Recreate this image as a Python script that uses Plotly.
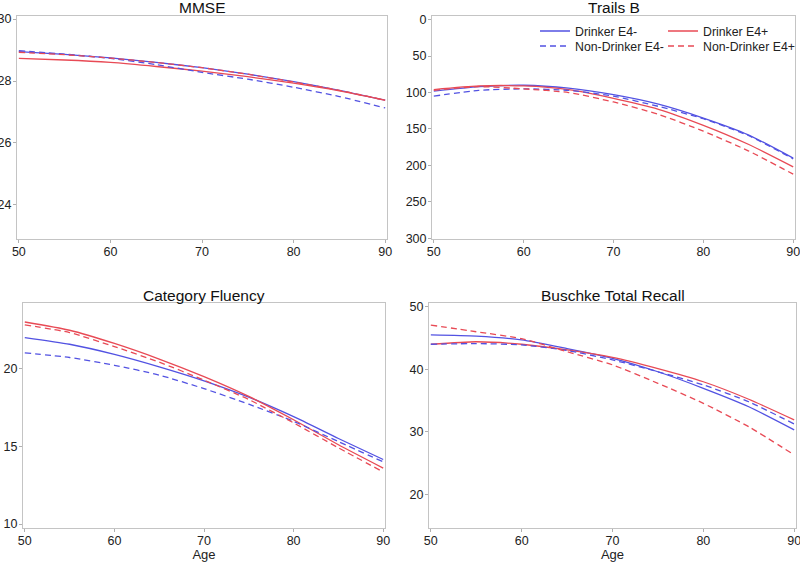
import plotly.graph_objects as go

ages = [50, 55, 60, 65, 70, 75, 80, 85, 90]

series_names = ["Drinker E4-", "Drinker E4+", "Non-Drinker E4-", "Non-Drinker E4+"]

# MMSE
mmse_d_neg = [28.95, 28.86, 28.75, 28.60, 28.43, 28.22, 27.98, 27.70, 27.38]
mmse_d_pos = [28.73, 28.68, 28.60, 28.47, 28.32, 28.14, 27.93, 27.68, 27.38]
mmse_nd_neg = [28.98, 28.87, 28.73, 28.53, 28.28, 28.06, 27.80, 27.50, 27.13]
mmse_nd_pos = [28.93, 28.85, 28.74, 28.60, 28.43, 28.22, 27.97, 27.70, 27.38]

# Trails B
trails_d_neg = [98, 92, 90, 94, 103, 116, 135, 158, 190]
trails_d_pos = [96, 91, 91, 96, 108, 123, 145, 171, 202]
trails_nd_neg = [105, 97, 95, 97, 105, 119, 136, 159, 191]
trails_nd_pos = [97, 92, 95, 100, 113, 130, 153, 180, 212]

# Category Fluency
cf_d_neg = [21.98, 21.55, 20.90, 20.10, 19.20, 18.15, 16.90, 15.50, 14.15]
cf_d_pos = [22.98, 22.45, 21.60, 20.60, 19.47, 18.20, 16.70, 15.10, 13.60]
cf_nd_neg = [21.00, 20.70, 20.20, 19.57, 18.70, 17.70, 16.60, 15.30, 14.00]
cf_nd_pos = [22.80, 22.30, 21.40, 20.40, 19.25, 18.00, 16.50, 14.90, 13.35]

# Buschke Total Recall
bu_d_neg = [45.5, 45.3, 44.7, 43.3, 41.75, 39.6, 36.95, 34.0, 30.3]
bu_d_pos = [44.0, 44.4, 44.0, 43.1, 41.9, 40.1, 38.0, 35.2, 31.9]
bu_nd_neg = [44.0, 44.1, 43.9, 43.0, 41.5, 39.6, 37.5, 34.8, 31.25]
bu_nd_pos = [47.07, 46.0, 44.9, 42.8, 40.7, 37.75, 34.55, 30.8, 26.3]

panel_titles = ["MMSE", "Trails B", "Category Fluency", "Buschke Total Recall"]
panel_data = [
    [mmse_d_neg, mmse_d_pos, mmse_nd_neg, mmse_nd_pos],
    [trails_d_neg, trails_d_pos, trails_nd_neg, trails_nd_pos],
    [cf_d_neg, cf_d_pos, cf_nd_neg, cf_nd_pos],
    [bu_d_neg, bu_d_pos, bu_nd_neg, bu_nd_pos],
]

BLUE = "#5252e2"
RED = "#e84a55"
colors = [BLUE, RED, BLUE, RED]
dashes = ["solid", "solid", "6px,4px", "6px,4px"]
legend_ids = ["legend", "legend2", "legend3", "legend4"]

W, H = 800, 562
# plot-area pixel boxes (x0, x1, ytop, ybottom)
boxes = [(17, 387, 16, 239), (432, 795, 16, 239), (23, 385, 303, 528), (429, 796, 303, 528)]
yranges = [[22.9, 30.1], [301, -5], [9.75, 24.2], [14.6, 50.6]]
ytickvals = [[24, 26, 28, 30], [0, 50, 100, 150, 200, 250, 300], [10, 15, 20], [20, 30, 40, 50]]
# legend entry anchor points (pixels): left edge x, row centre y
legend_pos = [(535, 31), (663, 31), (535, 46), (663, 46)]

fig = go.Figure()
FONT = "Liberation Sans, Arial, sans-serif"
axis_common = dict(
    showline=True, mirror=True, linecolor="#c4c4c4", linewidth=1,
    ticks="outside", ticklen=3, tickcolor="#b0b0b0", showgrid=False, zeroline=False,
    tickfont=dict(size=12.5, color="#222222", family=FONT), automargin=False,
    ticklabeloverflow="allow",
)

for i, (data, title) in enumerate(zip(panel_data, panel_titles)):
    suffix = "" if i == 0 else str(i + 1)
    for j, ys in enumerate(data):
        fig.add_trace(go.Scatter(
            x=ages, y=ys, mode="lines", name=series_names[j],
            line=dict(color=colors[j], width=1.3, dash=dashes[j], shape="spline", smoothing=0.6),
            xaxis="x" + suffix, yaxis="y" + suffix,
            showlegend=(i == 1), legend=legend_ids[j], legendgroup=series_names[j],
        ))
    x0, x1, yt, yb = boxes[i]
    fig.layout["xaxis" + suffix] = dict(
        domain=[x0 / W, x1 / W], anchor="y" + suffix, range=[49.8, 90.2],
        tickvals=[50, 60, 70, 80, 90], ticklabelstandoff=-2,
        title=dict(text="Age" if i >= 2 else "", font=dict(size=13, family=FONT, color="#222222"), standoff=3),
        **axis_common,
    )
    fig.layout["yaxis" + suffix] = dict(
        domain=[1 - yb / H, 1 - yt / H], anchor="x" + suffix, range=yranges[i],
        tickvals=ytickvals[i], ticklabelstandoff=-1, **axis_common,
    )
    fig.add_annotation(
        text=title, xref="paper", yref="paper", x=(x0 + x1) / 2 / W, y=1 - (yt - 8) / H,
        showarrow=False, font=dict(size=15.5, family=FONT, color="#111111"),
        xanchor="center", yanchor="middle",
    )

legend_common = dict(
    orientation="v", xanchor="left", yanchor="middle", itemwidth=30,
    font=dict(size=12.3, family=FONT, color="#222222"), bgcolor="rgba(0,0,0,0)",
    borderwidth=0, tracegroupgap=0,
)

legend_layout = {}
for lid, (lx, ly) in zip(legend_ids, legend_pos):
    legend_layout[lid] = dict(x=lx / W, y=1 - ly / H, **legend_common)

fig.update_layout(
    width=W, height=H, margin=dict(l=0, r=0, t=0, b=0),
    paper_bgcolor="white", plot_bgcolor="white",
    font=dict(family=FONT, color="#222222"),
    **legend_layout,
)

fig.write_html(
    "out.html",
    config={"displayModeBar": False},
    post_script="document.body.style.margin='0';document.body.style.overflow='hidden';",
)
